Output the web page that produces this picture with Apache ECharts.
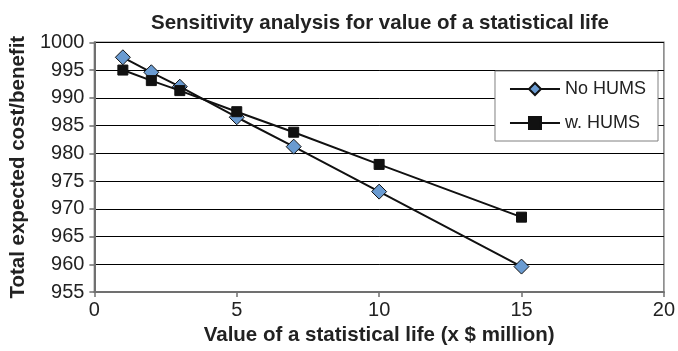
<!DOCTYPE html>
<html><head><meta charset="utf-8">
<script src="https://cdn.jsdelivr.net/npm/echarts@6/dist/echarts.min.js"></script>
<style>html,body{margin:0;padding:0;background:#fff}#c{width:678px;height:351px}</style>
</head><body><div id="c"></div>
<script>
const xValues = [1, 2, 3, 5, 7, 10, 15];
const noHums = [997.3, 994.6, 992.0, 986.5, 981.2, 973.1, 959.6];
const withHums = [995.0, 993.1, 991.3, 987.5, 983.8, 978.0, 968.5];
const seriesNames = ['No HUMS', 'w. HUMS'];

const chart = echarts.init(document.getElementById('c'), null, {renderer: 'canvas'});
const font = 'Liberation Sans, Arial, sans-serif';
chart.setOption({
  animation: false,
  backgroundColor: '#fff',
  title: {
    text: 'Sensitivity analysis for value of a statistical life',
    left: 375, top: 8, textAlign: 'center',
    textStyle: {fontFamily: font, fontSize: 20.5, fontWeight: 'bold', color: '#222'}
  },
  grid: {left: 92.5, right: 13, top: 42.3, bottom: 55, show: true, borderColor: '#808080', borderWidth: 1.5, backgroundColor: 'transparent'},
  legend: {
    right: 20, top: 71, orient: 'vertical', itemGap: 16,
    padding: [9, 12, 9, 14],
    borderColor: '#808080', borderWidth: 1, backgroundColor: '#fff',
    itemWidth: 50, itemHeight: 15,
    textStyle: {fontFamily: font, fontSize: 18, color: '#222'},
    data: seriesNames
  },
  xAxis: {
    type: 'value', min: 0, max: 20, interval: 5,
    name: 'Value of a statistical life (x $ million)', nameLocation: 'middle', nameGap: 30,
    nameTextStyle: {fontFamily: font, fontSize: 20.5, fontWeight: 'bold', color: '#222'},
    axisLine: {show: true, lineStyle: {color: '#707070', width: 2}},
    axisTick: {show: true, length: 5, lineStyle: {color: '#707070', width: 1.5}},
    axisLabel: {fontFamily: font, fontSize: 20, color: '#222', margin: 8},
    splitLine: {show: false}
  },
  yAxis: {
    type: 'value', min: 955, max: 1000, interval: 5,
    name: 'Total expected cost/benefit', nameLocation: 'middle', nameGap: 63,
    nameTextStyle: {fontFamily: font, fontSize: 20.5, fontWeight: 'bold', color: '#222'},
    axisLine: {show: true, lineStyle: {color: '#707070', width: 2}},
    axisTick: {show: true, length: 5, lineStyle: {color: '#707070', width: 1.5}},
    axisLabel: {fontFamily: font, fontSize: 20, color: '#222', margin: 10, formatter: v => String(v)},
    splitLine: {show: true, lineStyle: {color: '#000', width: 1}}
  },
  series: [
    {
      name: seriesNames[0], type: 'line',
      data: xValues.map((x, i) => [x, noHums[i]]),
      symbol: 'diamond', symbolSize: 15,
      itemStyle: {color: '#6a9bd1', borderColor: '#111', borderWidth: 1},
      lineStyle: {color: '#111', width: 2},
      z: 3
    },
    {
      name: seriesNames[1], type: 'line',
      data: xValues.map((x, i) => [x, withHums[i]]),
      symbol: 'rect', symbolSize: 10,
      itemStyle: {color: '#111', borderColor: '#111', borderWidth: 1},
      lineStyle: {color: '#111', width: 2},
      z: 4
    }
  ]
});
</script></body></html>
